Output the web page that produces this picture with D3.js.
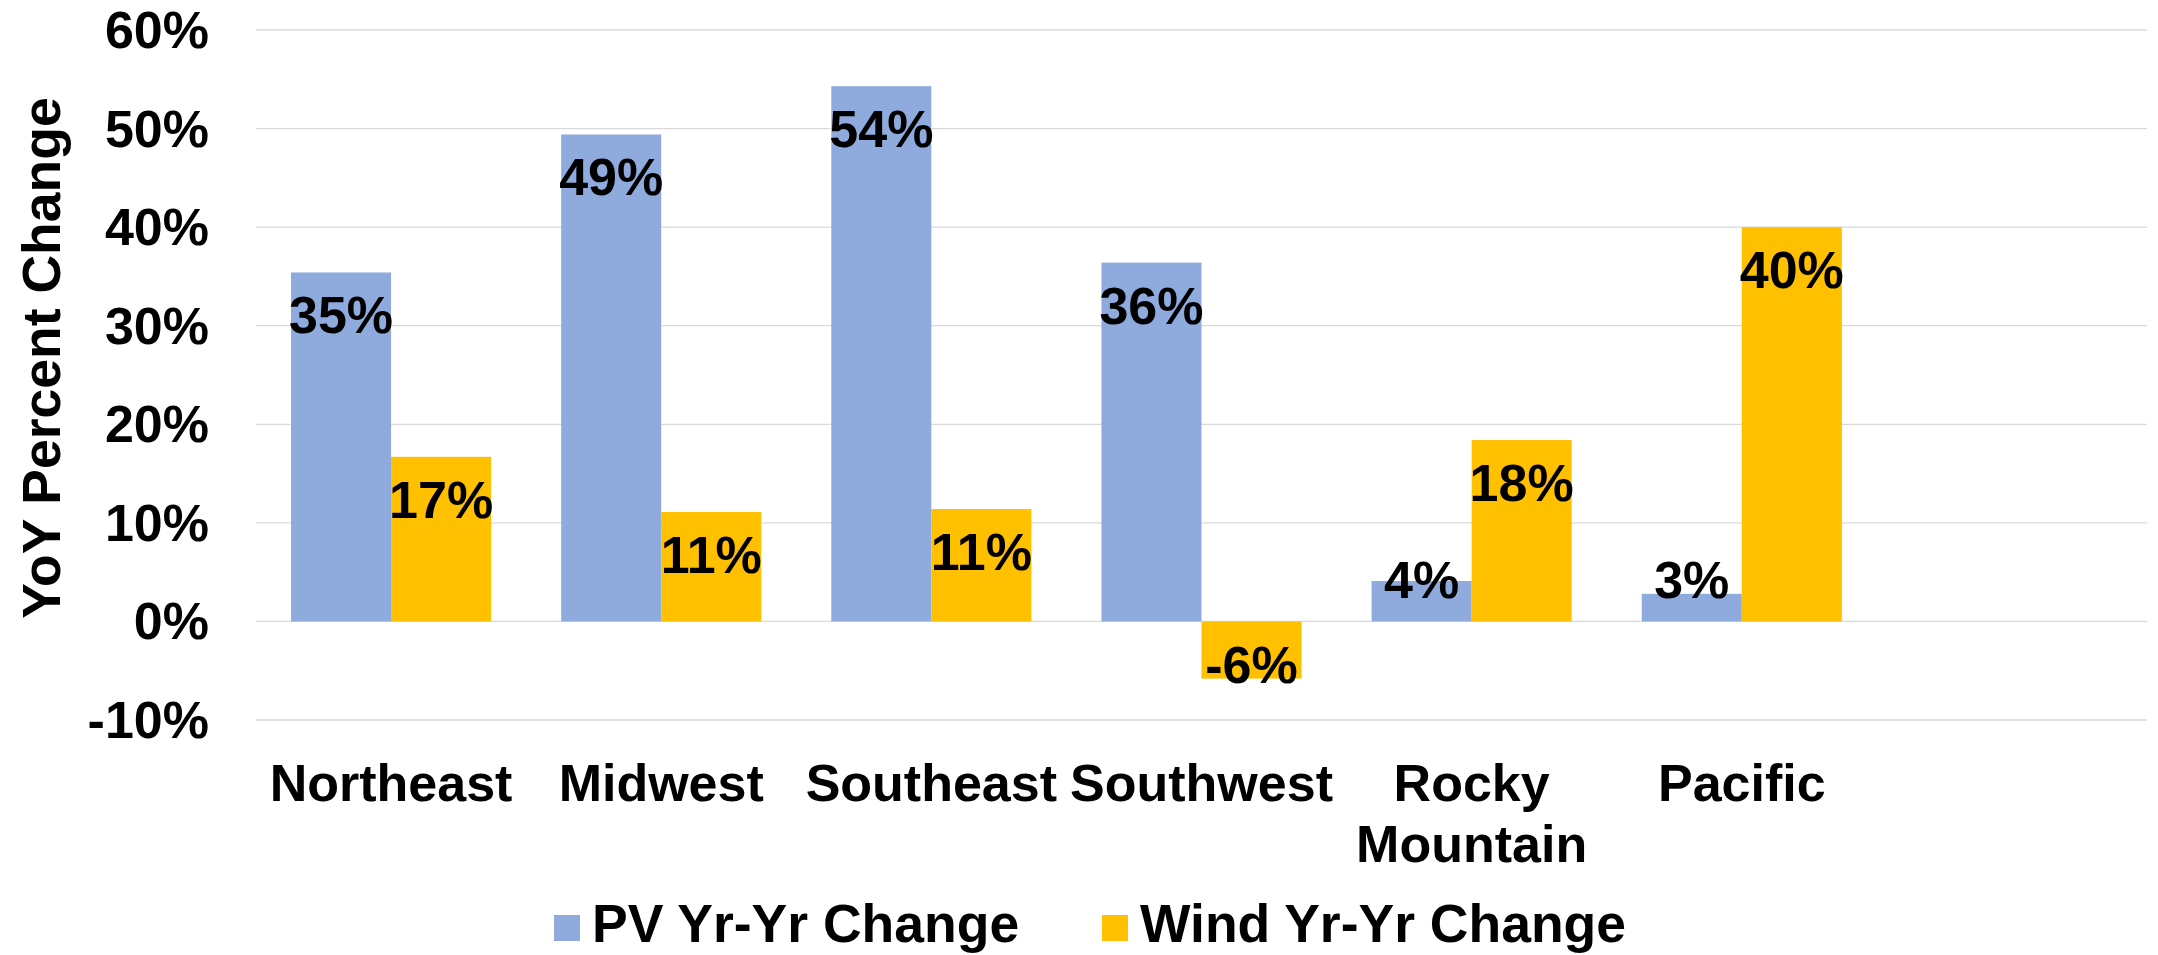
<!DOCTYPE html>
<html>
<head>
<meta charset="utf-8">
<script src="https://cdn.jsdelivr.net/npm/d3@7"></script>
<style>
  body { margin: 0; background: #fff; }
  text { font-family: "Liberation Sans", Arial, sans-serif; font-weight: bold; fill: #000; }
</style>
</head>
<body>
<div id="graph"></div>
<script>
const regions = ["Northeast", "Midwest", "Southeast", "Southwest", "Rocky Mountain", "Pacific"];
const pvChange = [0.354, 0.494, 0.543, 0.364, 0.041, 0.028];
const windChange = [0.167, 0.111, 0.114, -0.058, 0.184, 0.400];
const yTicks = [-0.1, 0, 0.1, 0.2, 0.3, 0.4, 0.5, 0.6];
const seriesNames = ["PV Yr-Yr Change", "Wind Yr-Yr Change"];
const colors = ["#8FAADC", "#FFC000"];

const width = 2158, height = 955;
const margin = {top: 30, right: 11, bottom: 235, left: 256};
const fs = 52;

const svg = d3.select("#graph").append("svg")
  .attr("width", width).attr("height", height);

// one blank slot at the end, like the original sheet
const x0 = d3.scaleBand()
  .domain(regions.concat([" "]))
  .range([margin.left, width - margin.right]);

const x1 = d3.scaleBand()
  .domain(seriesNames)
  .range([0, x0.bandwidth()])
  .paddingOuter(0.35);

const y = d3.scaleLinear()
  .domain([-0.1, 0.6])
  .range([height - margin.bottom, margin.top]);

// gridlines
svg.append("g")
  .selectAll("line")
  .data(yTicks)
  .join("line")
    .attr("x1", margin.left).attr("x2", width - margin.right)
    .attr("y1", d => y(d)).attr("y2", d => y(d))
    .attr("stroke", "#D9D9D9").attr("stroke-width", 1.3);

// y tick labels
svg.append("g")
  .selectAll("text")
  .data(yTicks)
  .join("text")
    .attr("x", 209).attr("y", d => y(d) + 18)
    .attr("text-anchor", "end")
    .style("font-size", fs + "px")
    .text(d => Math.round(d * 100) + "%");

// y title
svg.append("text")
  .attr("transform", "translate(60," + 358 + ") rotate(-90)")
  .attr("text-anchor", "middle")
  .style("font-size", "53.5px")
  .text("YoY Percent Change");

const rows = regions.map((r, i) => ({region: r, values: [pvChange[i], windChange[i]]}));
const y0 = y(0);

const groups = svg.append("g")
  .selectAll("g")
  .data(rows)
  .join("g")
    .attr("transform", d => "translate(" + x0(d.region) + ",0)");

groups.selectAll("rect")
  .data(d => d.values.map((v, k) => ({v: v, k: k})))
  .join("rect")
    .attr("x", d => x1(seriesNames[d.k]))
    .attr("width", x1.bandwidth())
    .attr("y", d => Math.min(y(d.v), y0))
    .attr("height", d => Math.abs(y(d.v) - y0))
    .attr("fill", d => colors[d.k]);

// data labels, inside end, kept on the bar's side of the axis
groups.selectAll("text")
  .data(d => d.values.map((v, k) => ({v: v, k: k})))
  .join("text")
    .attr("x", d => x1(seriesNames[d.k]) + x1.bandwidth() / 2)
    .attr("y", d => d.v >= 0 ? Math.min(y(d.v) + 61, y0 - 23) : Math.max(y(d.v) - 23, y0 + 62))
    .attr("text-anchor", "middle")
    .style("font-size", fs + "px")
    .text(d => Math.round(d.v * 100) + "%");

// category labels
const cat = svg.append("g")
  .selectAll("text")
  .data(regions)
  .join("text")
    .attr("x", d => x0(d) + x0.bandwidth() / 2)
    .attr("y", 801)
    .attr("text-anchor", "middle")
    .style("font-size", fs + "px");
cat.each(function(d) {
  const words = d.split(" ");
  const t = d3.select(this);
  const xc = t.attr("x");
  words.forEach((w, i) => {
    t.append("tspan").attr("x", xc).attr("dy", i === 0 ? 0 : 61).text(w);
  });
});

// legend
const legendX = [554, 1102];
const legend = svg.append("g")
  .selectAll("g")
  .data(seriesNames)
  .join("g")
    .attr("transform", (d, i) => "translate(" + legendX[i] + ",915)");
legend.append("rect")
  .attr("width", 26).attr("height", 26)
  .attr("fill", (d, i) => colors[i]);
legend.append("text")
  .attr("x", 38).attr("y", 27)
  .style("font-size", "53.5px")
  .text(d => d);
</script>
</body>
</html>
